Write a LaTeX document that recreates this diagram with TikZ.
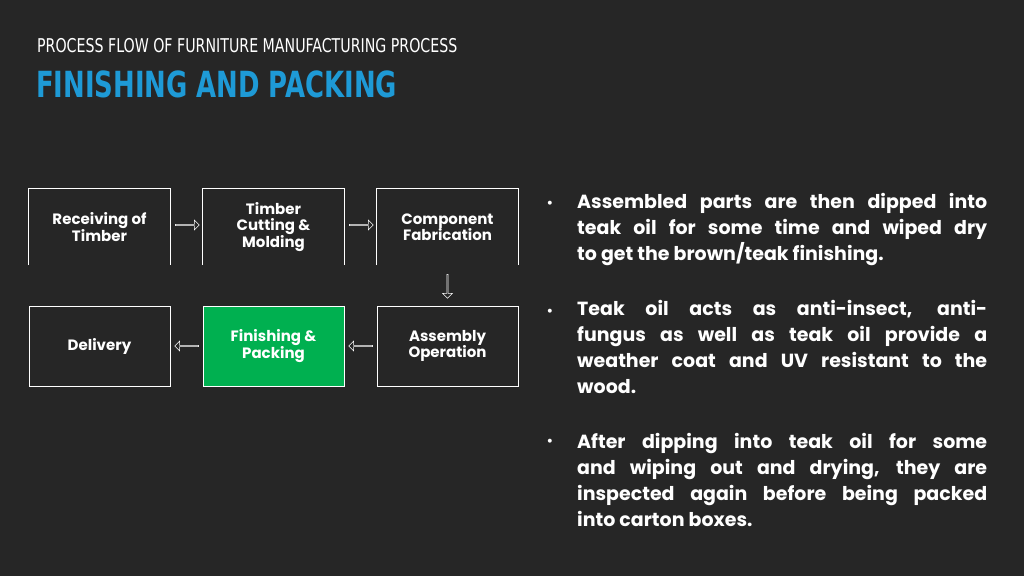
\documentclass[tikz,border=0pt]{standalone}
\usepackage{fontspec}
\setmainfont{Poppins}
\newfontfamily\titlefont{DejaVu Sans Condensed}
\usetikzlibrary{shapes.arrows}
\definecolor{bg}{HTML}{262626}
\definecolor{tblue}{HTML}{1E9AD6}
\definecolor{fgreen}{HTML}{00B050}
\tikzset{
  box/.style={minimum width=141pt,minimum height=80pt,inner sep=0pt,text=white,font=\bfseries\fontsize{15}{16.5}\selectfont,align=center},
  blk/.style={single arrow,draw=white!75,line width=0.5pt,minimum height=24pt,minimum width=10pt,single arrow head extend=2.5pt,inner sep=0pt,shape border uses incircle},
  para/.style={anchor=north west,text width=410pt,align=justify,inner sep=0pt,text=white,font=\bfseries\fontsize{19}{26}\selectfont},
}
\begin{document}
\begin{tikzpicture}[x=1pt,y=-1pt]
\fill[bg] (0,0) rectangle (1024,576);
\useasboundingbox (0,0) rectangle (1024,576);
\node[anchor=west,text=white,inner sep=0pt,xscale=0.83,font=\titlefont\fontsize{19}{19}\selectfont] (sub) at (37,46) {PROCESS FLOW OF FURNITURE MANUFACTURING PROCESS};
\node[anchor=west,text=tblue,inner sep=0pt,xscale=0.8,font=\titlefont\bfseries\fontsize{36}{36}\selectfont] (ttl) at (36,84) {FINISHING AND PACKING};
% top row
\node[box] (b1) at (99.5,227) {Receiving of\\Timber};
\node[box] (b2) at (273.5,227) {Timber\\Cutting \&\\Molding};
\node[box] (b3) at (447.5,227) {Component\\Fabrication};
\foreach \n in {b1,b2,b3}{\draw[white!85,line width=0.7pt] ([yshift=2pt]\n.south west)--([yshift=-2pt]\n.north west)--([yshift=-2pt]\n.north east)--([yshift=2pt]\n.south east);}
% bottom row
\node[box,draw=white!85,line width=0.7pt] (b6) at (99.5,346) {Delivery};
\node[box,fill=fgreen,draw=white!85,line width=0.7pt] (b5) at (273.5,346) {Finishing \&\\Packing};
\node[box,draw=white!85,line width=0.7pt] (b4) at (447.5,346) {Assembly\\Operation};
% arrows
\node[blk] (a1) at (187,225) {};
\node[blk] (a2) at (361,225) {};
\node[blk,rotate=-90] (a3) at (447.5,286) {};
\node[blk,rotate=180] (a4) at (361,346) {};
\node[blk,rotate=180] (a5) at (187,346) {};
% text
\node[para] (p1) at (577,193) {\hyphenpenalty=10000 Assembled parts are then dipped into\linebreak teak oil for some time and wiped dry\linebreak to get the brown/teak finishing.};
\node[para] (p2) at (577,300) {\hyphenpenalty=10000 Teak oil acts as anti-insect, anti-\linebreak fungus as well as teak oil provide a\linebreak weather coat and UV resistant to the\linebreak wood.};
\node[para] (p3) at (577,433) {\hyphenpenalty=10000 After dipping into teak oil for some\linebreak and wiping out and drying, they are\linebreak inspected again before being packed\linebreak into carton boxes.};
\foreach \p/\y in {p1/205,p2/313,p3/443}{\node[text=white,inner sep=0pt,font=\fontsize{16}{16}\selectfont] at (550,\y) {\textbullet};}
\end{tikzpicture}
\end{document}
